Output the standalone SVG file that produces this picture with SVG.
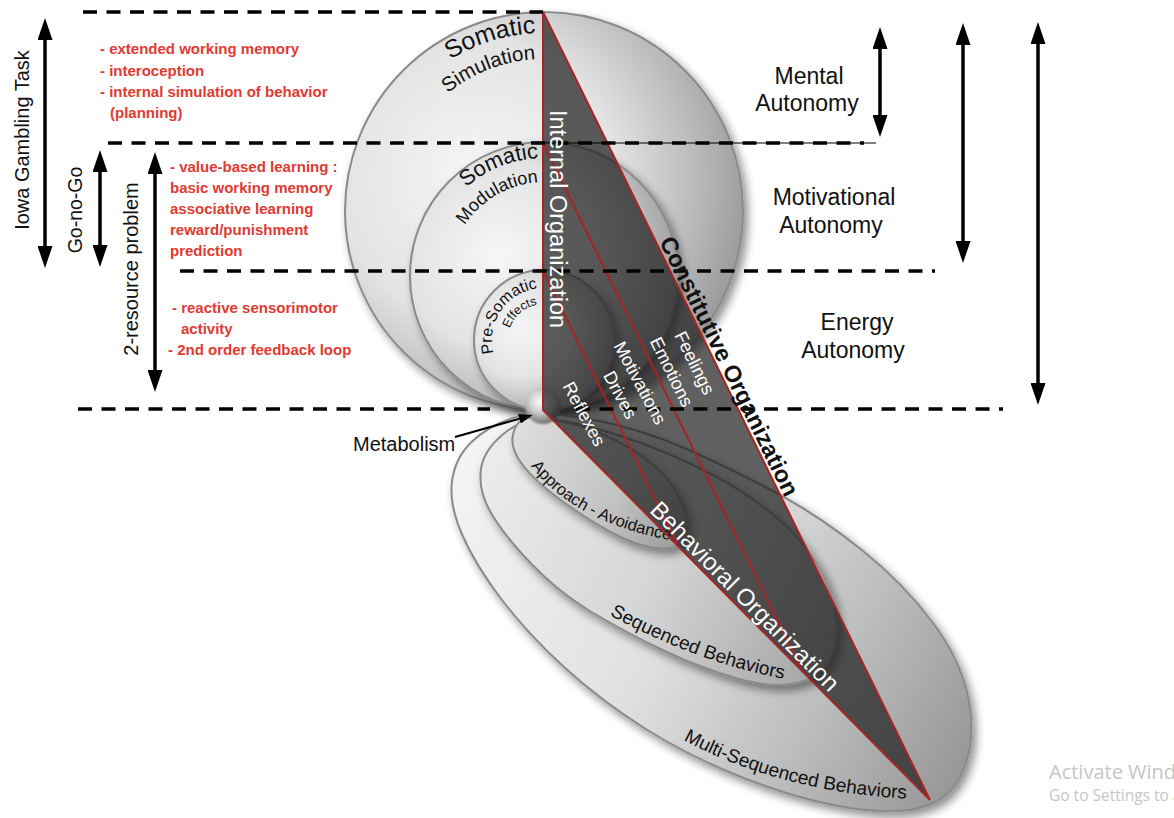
<svg xmlns="http://www.w3.org/2000/svg" width="1174" height="818" viewBox="0 0 1174 818">
  <defs>
    <style>
      .dash{stroke:#000;stroke-width:3.5;stroke-dasharray:14 9.5;fill:none}
      .thin{stroke:#000;stroke-width:1;fill:none}
      .arr{stroke:#000;stroke-width:3.5;fill:none;marker-start:url(#head);marker-end:url(#head)}
      .red{font-family:"Liberation Sans",Arial,sans-serif;font-weight:bold;font-size:15px;fill:#e03a32}
      .lab{font-family:"Liberation Sans",Arial,sans-serif;fill:#111}
      .wht{font-family:"Liberation Sans",Arial,sans-serif;fill:#fff}
      .rim{stroke:#8a8a8a;stroke-width:2}
      .org{fill:none;stroke:#a82424;stroke-width:2}
      .wm{font-family:"Open Sans","Noto Sans",sans-serif;fill:#c6c6c6}
    </style>
    <marker id="head" viewBox="0 0 22 15" refX="12" refY="7.5" markerWidth="22" markerHeight="15" markerUnits="userSpaceOnUse" orient="auto-start-reverse">
      <path d="M0,0 L22,7.5 L0,15 Z" fill="#000"/>
    </marker>
    <marker id="tip" viewBox="0 0 14 10" refX="10" refY="5" markerWidth="14" markerHeight="10" markerUnits="userSpaceOnUse" orient="auto">
      <path d="M0,0 L14,5 L0,10 Z" fill="#000"/>
    </marker>
    <filter id="shadow" x="-15%" y="-15%" width="140%" height="140%">
      <feGaussianBlur in="SourceAlpha" stdDeviation="5"/>
      <feOffset dx="4" dy="5" result="b"/>
      <feComponentTransfer><feFuncA type="linear" slope="0.45"/></feComponentTransfer>
      <feMerge><feMergeNode/><feMergeNode in="SourceGraphic"/></feMerge>
    </filter>
    <filter id="soft" x="-30%" y="-30%" width="160%" height="160%">
      <feGaussianBlur stdDeviation="0.8"/>
    </filter>
    <radialGradient id="sphereFill" cx="0.33" cy="0.42" r="0.78">
      <stop offset="0" stop-color="#f6f6f6"/>
      <stop offset="0.45" stop-color="#e3e3e3"/>
      <stop offset="0.72" stop-color="#b8b8b8"/>
      <stop offset="0.9" stop-color="#989898"/>
      <stop offset="1" stop-color="#858585"/>
    </radialGradient>
    <radialGradient id="metaFill" cx="0.42" cy="0.38" r="0.62">
      <stop offset="0" stop-color="#fafafa"/>
      <stop offset="0.5" stop-color="#cdcdcd"/>
      <stop offset="0.85" stop-color="#8c8c8c"/>
      <stop offset="1" stop-color="#6e6e6e"/>
    </radialGradient>
    <linearGradient id="fillC" gradientUnits="userSpaceOnUse" x1="455" y1="460" x2="975" y2="760">
      <stop offset="0" stop-color="#f4f4f4"/>
      <stop offset="0.45" stop-color="#e0e0e0"/>
      <stop offset="0.75" stop-color="#bababa"/>
      <stop offset="1" stop-color="#969696"/>
    </linearGradient>
    <linearGradient id="fillB" gradientUnits="userSpaceOnUse" x1="480" y1="470" x2="840" y2="640">
      <stop offset="0" stop-color="#ececec"/>
      <stop offset="0.5" stop-color="#d6d6d6"/>
      <stop offset="1" stop-color="#a4a4a4"/>
    </linearGradient>
    <linearGradient id="fillA" gradientUnits="userSpaceOnUse" x1="512" y1="440" x2="690" y2="530">
      <stop offset="0" stop-color="#dedede"/>
      <stop offset="0.6" stop-color="#c2c2c2"/>
      <stop offset="1" stop-color="#9a9a9a"/>
    </linearGradient>
    <!-- baselines for curved labels -->
    <path id="arcSim1" d="M366,211 A178,178 0 0 1 544,33"/>
    <path id="arcSim2" d="M392,211 A152,152 0 0 1 544,59"/>
    <path id="arcMod1" d="M426,276 A118,118 0 0 1 544,158"/>
    <path id="arcMod2" d="M450,276 A94,94 0 0 1 544,182"/>
    <path id="arcPre1" d="M495.1,357.8 A52,52 0 0 1 542.2,288"/>
    <path id="arcPre2" d="M508.5,333.8 A36,36 0 0 1 542.7,304"/>
    <path id="curveA" d="M525,458 C552,497 595,527 680,542"/>
    <path id="curveB" d="M604,612 C650,638 720,668 790,680"/>
    <path id="curveC" d="M676,736 C740,772 820,795 915,799"/>
  </defs>

  <rect width="1174" height="818" fill="#fff"/>

  <!-- nested circles (internal levels) -->
  <g id="somatic-simulation" filter="url(#shadow)">
    <circle cx="544" cy="211" r="199" fill="url(#sphereFill)" class="rim"/>
  </g>
  <g id="somatic-modulation" filter="url(#shadow)">
    <circle cx="544" cy="276" r="134" fill="url(#sphereFill)" class="rim"/>
  </g>
  <g id="pre-somatic" filter="url(#shadow)">
    <circle cx="544" cy="340" r="70" fill="url(#sphereFill)" class="rim"/>
  </g>

  <!-- nested ellipses (behavioural levels) -->
  <g id="multi-sequenced" filter="url(#shadow)">
    <path class="rim" fill="url(#fillC)" d="M513,418 Q538,410 589,419 Q640,428 691,451 Q742,474 782,496 Q822,518 862.5,550.5 Q903,583 932,621.5 Q961,660 968.5,698.5 Q976,737 964.5,767.5 Q953,798 924,806.5 Q900,815 850,808 Q800,800 745,778.5 Q690,757 645,728.5 Q600,700 564,667 Q528,634 502,600 Q476,566 462.5,535.5 Q449,505 452,481.5 Q455,458 471.5,442 Q488,426 513,418 Z"/>
  </g>
  <g id="sequenced" filter="url(#shadow)">
    <path class="rim" fill="url(#fillB)" d="M508.5,430 Q533,412 586.5,426 Q640,440 691,464 Q742,488 776,517 Q810,546 825.5,580.5 Q841,615 835.5,643.5 Q830,672 804,681 Q778,690 739,679 Q700,668 662.5,650 Q625,632 591.5,612 Q558,592 530.5,563 Q503,534 490.5,512 Q478,490 481,469 Q484,448 508.5,430 Z"/>
  </g>
  <g id="approach-avoidance" filter="url(#shadow)">
    <path class="rim" fill="url(#fillA)" d="M522,419.5 Q530,414 565,422 Q600,430 631,449 Q662,468 676,491.5 Q690,515 686,532.5 Q682,550 660,548.5 Q638,547 611.5,532.5 Q585,518 560,499.5 Q535,481 523,465.5 Q511,450 512.5,437.5 Q514,425 522,419.5 Z"/>
  </g>

  <!-- labels on circles and ellipses -->
  <g id="level-labels" class="lab">
    <text font-size="25" text-anchor="end"><textPath href="#arcSim1" startOffset="97%">Somatic</textPath></text>
    <text font-size="20.5" text-anchor="end"><textPath href="#arcSim2" startOffset="96.5%">Simulation</textPath></text>
    <text font-size="22" text-anchor="end"><textPath href="#arcMod1" startOffset="97%">Somatic</textPath></text>
    <text font-size="18" text-anchor="end"><textPath href="#arcMod2" startOffset="96%">Modulation</textPath></text>
    <text font-size="16" text-anchor="middle"><textPath href="#arcPre1" startOffset="50%">Pre-Somatic</textPath></text>
    <text font-size="12.5" text-anchor="middle"><textPath href="#arcPre2" startOffset="50%">Effects</textPath></text>
    <text font-size="16.5" text-anchor="middle"><textPath href="#curveA" startOffset="50%">Approach - Avoidance</textPath></text>
    <text font-size="19" text-anchor="middle"><textPath href="#curveB" startOffset="50%">Sequenced Behaviors</textPath></text>
    <text font-size="19" text-anchor="middle"><textPath href="#curveC" startOffset="50%">Multi-Sequenced Behaviors</textPath></text>
  </g>

  <!-- metabolism core -->
  <g id="metabolism">
    <circle cx="543" cy="406" r="18" fill="url(#metaFill)" filter="url(#soft)"/>
  </g>

  <!-- organization triangle -->
  <g id="organization">
    <polygon points="543,12 543,410 930,800" fill="#1c1c1c" fill-opacity="0.7"/>
    <line x1="543" y1="143" x2="802.6" y2="671.6" class="org"/>
    <line x1="543" y1="271" x2="678.2" y2="546.2" class="org"/>
    <polygon points="543,12 543,410 930,800" class="org"/>
  </g>

  <!-- level boundaries and ranges -->
  <g id="connectors">
    <line x1="543" y1="143" x2="876" y2="143" class="thin"/>
    <line x1="83" y1="12" x2="543" y2="12" class="dash"/>
    <line x1="108" y1="143" x2="864" y2="143" class="dash"/>
    <line x1="180" y1="271" x2="935" y2="271" class="dash"/>
    <line x1="78" y1="409" x2="490" y2="409" class="dash"/>
    <line x1="576" y1="409" x2="1003" y2="409" class="dash"/>
    <line x1="45" y1="28" x2="45" y2="258" class="arr"/>
    <line x1="100" y1="160" x2="100" y2="257" class="arr"/>
    <line x1="155" y1="162" x2="155" y2="382" class="arr"/>
    <line x1="880" y1="37" x2="880" y2="127" class="arr"/>
    <line x1="963" y1="33" x2="963" y2="253" class="arr"/>
    <line x1="1038" y1="32" x2="1038" y2="395" class="arr"/>
    <line x1="455" y1="437" x2="529" y2="416" stroke="#000" stroke-width="2" marker-end="url(#tip)"/>
  </g>

  <!-- organization labels -->
  <g id="organization-labels">
    <text class="wht" font-size="23.5" transform="translate(550,110) rotate(90)">Internal Organization</text>
    <text class="lab" font-size="23.5" font-weight="bold" transform="translate(659,241.5) rotate(63.83)">Constitutive Organization</text>
    <text class="wht" font-size="24" transform="translate(648.8,511.2) rotate(45.2)">Behavioral Organization</text>
    <text class="wht" font-size="18" text-anchor="middle" y="6" transform="translate(694.5,363) rotate(63.8)">Feelings</text>
    <text class="wht" font-size="18" text-anchor="middle" y="6" transform="translate(671.5,372) rotate(63.8)">Emotions</text>
    <text class="wht" font-size="18" text-anchor="middle" y="6" transform="translate(640,383) rotate(62)">Motivations</text>
    <text class="wht" font-size="18" text-anchor="middle" y="6" transform="translate(620,395) rotate(62)">Drives</text>
    <text class="wht" font-size="18" text-anchor="middle" y="6" transform="translate(584,414) rotate(62)">Reflexes</text>
    <text class="lab" font-size="20" x="353" y="451">Metabolism</text>
  </g>

  <!-- task ranges -->
  <g id="tasks" class="lab" font-size="20" text-anchor="middle">
    <text transform="translate(29,140) rotate(-90)">Iowa Gambling Task</text>
    <text font-size="19.5" transform="translate(82,210) rotate(-90)">Go-no-Go</text>
    <text transform="translate(137.5,269) rotate(-90)">2-resource problem</text>
  </g>

  <!-- capacities -->
  <g id="capacities">
    <text class="red" x="100" y="54">- extended working memory</text>
    <text class="red" x="100" y="76">- interoception</text>
    <text class="red" x="100" y="97">- internal simulation of behavior</text>
    <text class="red" x="110" y="118">(planning)</text>
    <text class="red" x="170" y="172">- value-based learning :</text>
    <text class="red" x="170" y="193">basic working memory</text>
    <text class="red" x="170" y="214">associative learning</text>
    <text class="red" x="170" y="235">reward/punishment</text>
    <text class="red" x="170" y="256">prediction</text>
    <text class="red" x="172" y="313">- reactive sensorimotor</text>
    <text class="red" x="181" y="334">activity</text>
    <text class="red" x="168" y="355">- 2nd order feedback loop</text>
  </g>

  <!-- autonomy levels -->
  <g id="autonomy" class="lab" font-size="23" text-anchor="middle">
    <text x="809" y="84">Mental</text>
    <text x="807" y="111">Autonomy</text>
    <text x="834" y="205">Motivational</text>
    <text x="831" y="233">Autonomy</text>
    <text x="857" y="330">Energy</text>
    <text x="853" y="358">Autonomy</text>
  </g>

  <g id="watermark">
    <text class="wm" font-size="20" x="1049" y="779">Activate Windows</text>
    <text class="wm" font-size="15.5" x="1049" y="801">Go to Settings to activate Windows.</text>
  </g>
</svg>
